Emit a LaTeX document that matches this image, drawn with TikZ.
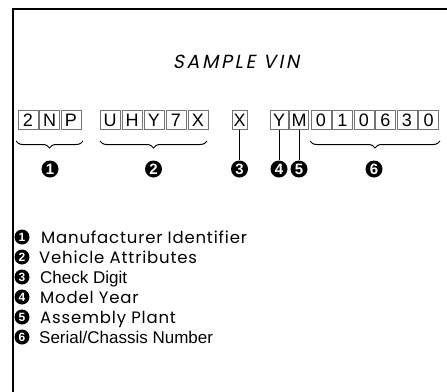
\documentclass[tikz,border=0pt]{standalone}
\usepackage{fontspec}
\setmainfont{Liberation Sans}
\newfontfamily\geofont{Poppins}[LetterSpace=5]
\newfontfamily\titlefont{Poppins}[FakeSlant=0.2,LetterSpace=14]
\usetikzlibrary{decorations.pathreplacing}
\begin{document}
\begin{tikzpicture}[x=1pt,y=-1pt,
  cbox/.style={draw=black!55,line width=0.7pt,minimum height=19pt,inner sep=0pt,font=\fontsize{18}{18}\selectfont},
  numc/.style={circle,fill=black,text=white,inner sep=0pt,minimum size=17pt,font=\bfseries\fontsize{15}{15}\selectfont},
  legc/.style={circle,fill=black,text=white,inner sep=0pt,minimum size=15pt,font=\bfseries\fontsize{12}{12}\selectfont},
  legt/.style={anchor=base west,inner sep=0pt,font=\geofont\fontsize{16.5}{16.5}\selectfont},
  legs/.style={anchor=base west,inner sep=0pt,font=\fontsize{17}{17}\selectfont},
  bracestyle/.style={decorate,decoration={brace,mirror,amplitude=7pt},line width=1pt},
  frame/.style={line width=2pt}]
\useasboundingbox (0,0) rectangle (447,391);
\fill[white] (0,0) rectangle (447,391);
\draw[frame] (13,392) coordinate (fb) -- (13,9) coordinate (fc) -- (448,9) coordinate (fr);
\node[font=\titlefont\fontsize{19}{19}\selectfont] (title) at (236,62) {SAMPLE VIN};
% group 1
\node[cbox,minimum width=20pt] (b1) at (28,120) {2};
\node[cbox,minimum width=20pt] (b2) at (49.5,120) {N};
\node[cbox,minimum width=20pt] (b3) at (71,120) {P};
% group 2
\node[cbox,minimum width=20pt] (b4) at (110,120) {U};
\node[cbox,minimum width=20pt] (b5) at (132,120) {H};
\node[cbox,minimum width=20pt] (b6) at (154,120) {Y};
\node[cbox,minimum width=20pt] (b7) at (176,120) {7};
\node[cbox,minimum width=20pt] (b8) at (198,120) {X};
% check digit
\node[cbox,minimum width=15pt] (b9) at (239.5,120) {X};
% year, plant
\node[cbox,minimum width=18pt] (b10) at (279,120) {Y};
\node[cbox,minimum width=19pt] (b11) at (299,120) {M};
% serial
\node[cbox,minimum width=20pt] (b12) at (321,120) {0};
\node[cbox,minimum width=20pt] (b13) at (342.5,120) {1};
\node[cbox,minimum width=20pt] (b14) at (364,120) {0};
\node[cbox,minimum width=20pt] (b15) at (385.5,120) {6};
\node[cbox,minimum width=20pt] (b16) at (407,120) {3};
\node[cbox,minimum width=20pt] (b17) at (428.5,120) {0};
% braces
\coordinate (br1a) at (16,141); \coordinate (br1b) at (83,141);
\coordinate (br2a) at (100,141); \coordinate (br2b) at (207,141);
\coordinate (br6a) at (310,141); \coordinate (br6b) at (440,141);
\draw[bracestyle] (br1a) -- (br1b);
\draw[bracestyle] (br2a) -- (br2b);
\draw[bracestyle] (br6a) -- (br6b);
% numbers
\node[numc] (c1) at (50,169) {1};
\node[numc] (c2) at (153.5,169) {2};
\node[numc] (c3) at (239.5,169) {3};
\node[numc] (c4) at (279,169) {4};
\node[numc] (c5) at (299,169) {5};
\node[numc] (c6) at (374,169) {6};
\draw[line width=0.7pt] (b9.south) -- (c3.north);
\draw[line width=0.7pt] (b10.south) -- (c4.north);
\draw[line width=0.7pt] (b11.south) -- (c5.north);
% legend
\node[legc] (l1) at (22,237) {1};
\node[legc] (l2) at (22,257) {2};
\node[legc] (l3) at (22,277) {3};
\node[legc] (l4) at (22,297) {4};
\node[legc] (l5) at (22,317) {5};
\node[legc] (l6) at (22,337) {6};
\node[legt] (t1) at (41,243) {Manufacturer Identifier};
\node[legt] (t2) at (39,263) {Vehicle Attributes};
\node[legs] (t3) at (40,283) {Check Digit};
\node[legt] (t4) at (40,303) {Model Year};
\node[legt] (t5) at (40,323) {Assembly Plant};
\node[legs] (t6) at (39,343) {Serial/Chassis Number};
\end{tikzpicture}
\end{document}
